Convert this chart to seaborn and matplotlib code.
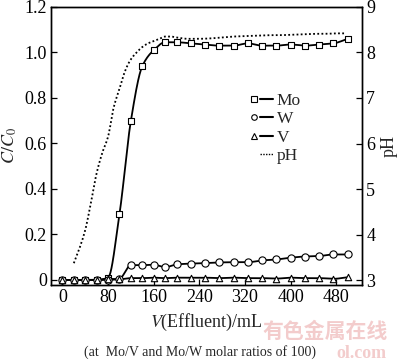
import numpy as np
import pandas as pd
import seaborn as sns
import matplotlib
matplotlib.use("Agg")
import matplotlib.pyplot as plt
from matplotlib.lines import Line2D
from matplotlib.legend_handler import HandlerTuple

# effluent volume (mL) for the metal samples
volume = [0, 20, 40, 60, 80, 100, 120, 140, 160, 180, 200,
          225, 250, 275, 300, 325, 350, 375, 400, 425, 450, 475, 500]
mo = [0, 0, 0, 0, 0.01, 0.29, 0.70, 0.94, 1.01, 1.045, 1.045,
      1.04, 1.035, 1.03, 1.03, 1.04, 1.03, 1.03, 1.035, 1.03, 1.035, 1.04, 1.06]
w = [0, 0, 0, 0, 0, 0.005, 0.065, 0.065, 0.067, 0.056, 0.068,
     0.072, 0.074, 0.077, 0.078, 0.078, 0.086, 0.09, 0.098, 0.103, 0.105, 0.112, 0.112]
v = [0, 0, 0, 0, 0.005, 0.003, 0.008, 0.008, 0.01, 0.008, 0.01,
     0.01, 0.01, 0.008, 0.01, 0.008, 0.008, 0.006, 0.01, 0.008, 0.008, 0.005, 0.012]

# pH of effluent
ph_volume = [20, 30, 40, 50, 60, 70, 80, 90, 100, 110, 120, 130, 140, 150, 160, 170,
             180, 190, 200, 220, 240, 260, 280, 300, 320, 340, 360, 380, 400, 420,
             440, 460, 480, 495]
ph = [3.37, 3.7, 4.1, 4.7, 5.35, 5.8, 6.15, 6.8, 7.2, 7.6, 7.85, 8.0, 8.12, 8.2, 8.25, 8.3,
      8.35, 8.35, 8.33, 8.3, 8.3, 8.31, 8.33, 8.35, 8.36, 8.37, 8.38, 8.38, 8.39, 8.4,
      8.41, 8.41, 8.42, 8.42]

x_ticks = [0, 80, 160, 240, 320, 400, 480]
c_ticks = [0, 0.2, 0.4, 0.6, 0.8, 1.0, 1.2]
c_ticklabels = ["0", "0.2", "0.4", "0.6", "0.8", "1.0", "1.2"]
ph_ticks = [3, 4, 5, 6, 7, 8, 9]


def pchip(x, y, xs):
    # monotone cubic curve through the points (only for drawing the line)
    x = np.asarray(x, float)
    y = np.asarray(y, float)
    h = np.diff(x)
    d = np.diff(y) / h
    m = np.zeros_like(y)
    m[0], m[-1] = d[0], d[-1]
    for k in range(1, len(x) - 1):
        if d[k - 1] * d[k] <= 0:
            m[k] = 0
        else:
            w1 = 2 * h[k] + h[k - 1]
            w2 = h[k] + 2 * h[k - 1]
            m[k] = (w1 + w2) / (w1 / d[k - 1] + w2 / d[k])
    i = np.clip(np.searchsorted(x, xs) - 1, 0, len(x) - 2)
    t = (xs - x[i]) / h[i]
    h00 = 2 * t**3 - 3 * t**2 + 1
    h10 = t**3 - 2 * t**2 + t
    h01 = -2 * t**3 + 3 * t**2
    h11 = t**3 - t**2
    return h00 * y[i] + h10 * h[i] * m[i] + h01 * y[i + 1] + h11 * h[i] * m[i + 1]


sns.set_theme(style="ticks")
plt.rcParams["font.family"] = ["Liberation Serif", "DejaVu Serif"]
plt.rcParams["mathtext.fontset"] = "stix"

df = pd.DataFrame({"V": volume, "Mo": mo, "W": w, "V_": v})
xs = np.linspace(volume[0], volume[-1], 600)
xs_ph = np.linspace(ph_volume[0], ph_volume[-1], 400)

fig = plt.figure(figsize=(4.0, 3.63), dpi=100)
ax = fig.add_axes([0.1275, 0.215, 0.7775, 0.7658])
ax2 = ax.twinx()

for col, mk, ms in [("Mo", "s", 4.6), ("W", "o", 5.2), ("V_", "^", 4.6)]:
    sns.lineplot(x=xs, y=pchip(volume, df[col], xs), ax=ax, color="black", lw=1.3)
    sns.scatterplot(x="V", y=col, data=df, ax=ax, marker=mk, s=ms**2,
                    facecolor="white", edgecolor="black", linewidth=0.8, zorder=3)

sns.lineplot(x=xs_ph, y=pchip(ph_volume, ph, xs_ph), ax=ax2, color="black",
             lw=1.3, linestyle=(0, (1, 1.3)))

ax.set_xlim(-20, 525)
ax.set_ylim(-0.022, 1.2)
ax2.set_ylim(2.892, 9)
ax.set_xticks(x_ticks)
ax.set_yticks(c_ticks)
ax.set_yticklabels(c_ticklabels)
ax2.set_yticks(ph_ticks)

ax.set_xlabel("$V$(Effluent)/mL", fontsize=13, labelpad=4)
ax.set_ylabel("$C/C_0$", fontsize=13, labelpad=4)
ax2.set_ylabel("pH", fontsize=13, labelpad=4)

for a in (ax, ax2):
    a.tick_params(direction="in", length=4, width=0.9, labelsize=13, colors="black", pad=3)
    for s in a.spines.values():
        s.set_linewidth(1.0)
        s.set_color("black")
    for lab in a.get_yticklabels():
        lab.set_verticalalignment("center_baseline")

# legend: marker on the left, line on the right
blank = Line2D([], [], ls="none")
handles = [
    (Line2D([], [], marker="s", ls="none", mfc="white", mec="black", ms=4, mew=0.8),
     Line2D([], [], color="black", lw=1.5)),
    (Line2D([], [], marker="o", ls="none", mfc="white", mec="black", ms=4, mew=0.8),
     Line2D([], [], color="black", lw=1.5)),
    (Line2D([], [], marker="^", ls="none", mfc="white", mec="black", ms=4, mew=0.8),
     Line2D([], [], color="black", lw=1.5)),
    (blank, Line2D([], [], color="black", lw=1.0, linestyle=(0, (1, 1)))),
]
ax2.legend(handles, ["Mo", "W", "V", "pH"], handler_map={tuple: HandlerTuple(ndivide=None, pad=0)},
           loc="upper left", bbox_to_anchor=(247 / 400, 1 - 93 / 363),
           bbox_transform=fig.transFigure, frameon=False, fontsize=12.5,
           handlelength=1.5, handletextpad=0.2, labelspacing=0.12, borderpad=0,
           borderaxespad=0)

fig.text(0.5, 1 - 352 / 363, "(at  Mo/V and Mo/W molar ratios of 100)",
         ha="center", va="center", fontsize=10)

# faint site watermark
fig.text(262 / 400, 1 - 331 / 363, "有色金属在线", ha="left", va="center", fontsize=15,
         color="#f3cccc", fontweight="bold", family=["Noto Sans CJK SC"], zorder=0)
fig.text(336 / 400, 1 - 354 / 363, "ol.com", ha="left", va="center", fontsize=13,
         color="#f3cccc", fontweight="bold", zorder=0)

fig.savefig("out.png", dpi=100)
